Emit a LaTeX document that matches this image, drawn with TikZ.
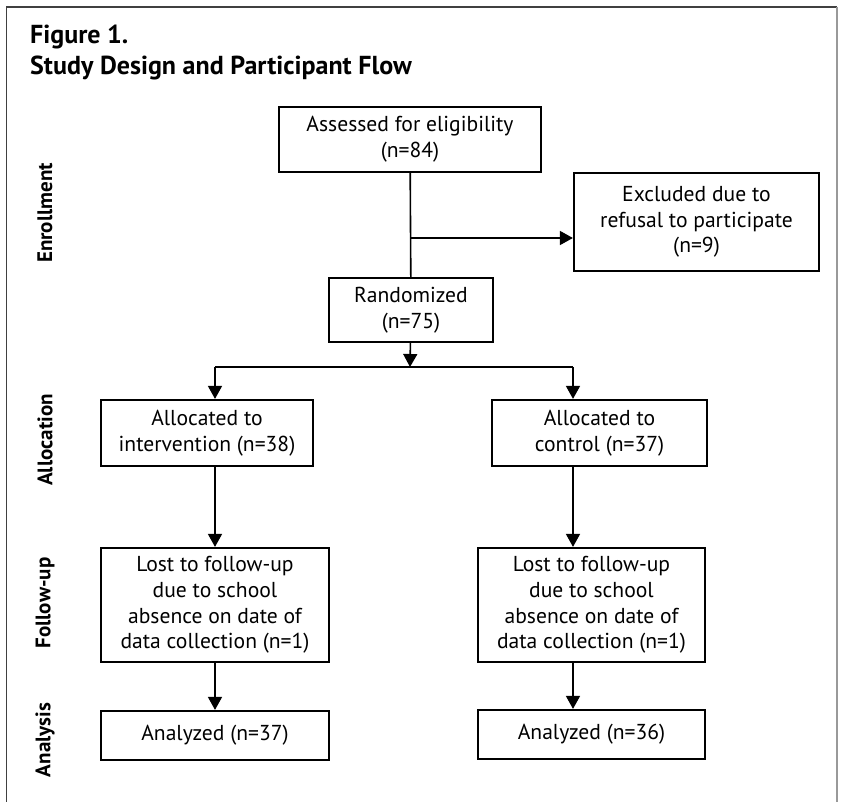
\documentclass[tikz,border=0pt]{standalone}
\usepackage{fontspec}
\setmainfont{PT Sans}
\usetikzlibrary{arrows.meta}

\begin{document}
\begin{tikzpicture}[x=1pt, y=-1pt,
	box/.style={shape=rectangle, draw=black, line width=2.2pt,
		align=center, inner sep=0pt,
		font=\fontsize{21.6}{25.7}\selectfont},
	link/.style={line width=1.6pt},
	arr/.style={link, -{Triangle[width=14pt,length=13pt]}},
	phase/.style={rotate=90, inner sep=0pt,
		font=\bfseries\fontsize{21}{21}\selectfont},
	heading/.style={anchor=base west, inner sep=0pt,
		font=\bfseries\fontsize{26}{31}\selectfont}]

	\useasboundingbox (0,0) rectangle (841,802);
	\draw[line width=1.2pt, black!75] (6.5,802) -- (6.5,7) -- (837,7);
	\draw[line width=1.2pt, black!40] (837,7) -- (837,802);

	\node[heading] (fig)   at (30,44) {Figure 1.};
	\node[heading] (title) at (30,75) {Study Design and Participant Flow};

	% phases down the left side
	\node[phase] (enrol)    at (45,213) {Enrollment};
	\node[phase] (alloc)    at (45,440) {Allocation};
	\node[phase] (followup) at (45,603) {Follow-up};
	\node[phase] (analysis) at (45,740) {Analysis};

	\node[box, minimum width=262pt, minimum height=65pt]
		(assess) at (410,139.5) {Assessed for eligibility\\(n=84)};
	\node[box, minimum width=245pt, minimum height=98pt]
		(excl) at (696.5,222) {Excluded due to\\refusal to participate\\(n=9)};
	\node[box, minimum width=164pt, minimum height=64pt]
		(rand) at (411,310) {Randomized\\(n=75)};
	\node[box, minimum width=212pt, minimum height=66pt]
		(alloc1) at (207,433) {Allocated to\\intervention (n=38)};
	\node[box, minimum width=215pt, minimum height=66pt]
		(alloc2) at (599.5,433) {Allocated to\\control (n=37)};
	\node[box, minimum width=228pt, minimum height=114pt]
		(lost1) at (215,605) {Lost to follow-up\\due to school\\absence on date of\\data collection (n=1)};
	\node[box, minimum width=227pt, minimum height=114pt]
		(lost2) at (591.5,605) {Lost to follow-up\\due to school\\absence on date of\\data collection (n=1)};
	\node[box, minimum width=228pt, minimum height=49pt]
		(anal1) at (215,735.5) {Analyzed (n=37)};
	\node[box, minimum width=227pt, minimum height=49pt]
		(anal2) at (591.5,734.5) {Analyzed (n=36)};

	\coordinate (excljoin) at (410,238);
	\coordinate (split)    at (410,367);
	\coordinate (splitl)   at (215,367);
	\coordinate (splitr)   at (573,367);

	\draw[link] (assess) -- (rand);
	\draw[arr]  (excljoin) -- (excljoin -| excl.west);
	\draw[arr]  (rand) -- (split);
	\draw[link] (splitl) -- (splitr);
	\draw[arr]  (splitl) -- (splitl |- alloc1.north);
	\draw[arr]  (splitr) -- (splitr |- alloc2.north);
	\draw[arr]  (splitl |- alloc1.south) -- (splitl |- lost1.north);
	\draw[arr]  (splitr |- alloc2.south) -- (splitr |- lost2.north);
	\draw[arr]  (splitl |- lost1.south) -- (splitl |- anal1.north);
	\draw[arr]  (splitr |- lost2.south) -- (splitr |- anal2.north);
\end{tikzpicture}
\end{document}
